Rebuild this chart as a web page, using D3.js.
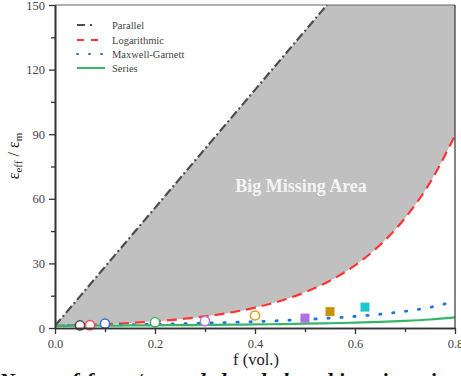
<!DOCTYPE html>
<html><head><meta charset="utf-8">
<script src="https://cdn.jsdelivr.net/npm/d3@7"></script>
<style>
body{margin:0;background:#fff;}
svg{display:block;font-family:"Liberation Serif","Times New Roman",serif;}
</style></head>
<body>
<svg id="c" width="461" height="376"></svg>
<script>
// ---- data ----
const fVals = [0,0.05,0.1,0.15,0.2,0.25,0.3,0.35,0.4,0.45,0.5,0.55,0.6,0.65,0.7,0.75,0.8];
const parallelVals = [1,14.7,28.4,42.1,55.8,69.5,83.2,96.9,110.6,124.3,138,151.7,165.4,179.1,192.8,206.5,220.2];
const logVals = [1,1.32,1.75,2.32,3.08,4.07,5.39,7.14,9.46,12.52,16.58,21.96,29.08,38.51,51.0,67.5,89.4];
const mgVals = [1,1.16,1.33,1.52,1.74,1.99,2.27,2.59,2.96,3.41,3.94,4.58,5.38,6.40,7.75,9.62,12.38];
const seriesVals = [1,1.05,1.11,1.18,1.25,1.33,1.43,1.54,1.66,1.81,1.99,2.21,2.49,2.84,3.31,3.96,4.93];
const circleF = [0.05,0.07,0.1,0.2,0.3,0.4];
const circleV = [1.2,1.3,2.0,2.7,3.2,5.8];
const circleC = ["#4a4a4a","#ff4a4a","#2f6fe0","#3cb371","#b57fe6","#d9a020"];
const squareF = [0.5,0.55,0.62];
const squareV = [4.6,7.6,9.7];
const squareC = ["#b070e0","#c8920a","#1ec8cf"];
const xTicks = [0,0.2,0.4,0.6,0.8];
const xMinor = [0.1,0.3,0.5,0.7];
const yTicks = [0,30,60,90,120,150];
const yMinor = [15,45,75,105,135];
const legendNames = ["Parallel","Logarithmic","Maxwell-Garnett","Series"];

// ---- layout ----
const L=55,R=455,T=5,B=328;
const svg=d3.select("#c");
const x=d3.scaleLinear().domain([0,0.8]).range([L,R]);
const y=d3.scaleLinear().domain([0,150]).range([B,T]);

svg.append("clipPath").attr("id","clip").append("rect")
  .attr("x",L).attr("y",T).attr("width",R-L).attr("height",B-T);
const g=svg.append("g").attr("clip-path","url(#clip)");

const pts=(vals)=>fVals.map((f,i)=>[f,vals[i]]);
const area=d3.area().x((d,i)=>x(fVals[i])).y0((d,i)=>y(logVals[i])).y1((d,i)=>y(parallelVals[i])).curve(d3.curveMonotoneX);
g.append("path").datum(fVals).attr("d",area).attr("fill","#c0c0c0");

const line=d3.line().x(d=>x(d[0])).y(d=>y(d[1])).curve(d3.curveMonotoneX);
const styles=[
  {vals:parallelVals,color:"#4d4d4d",dash:"9,3,2,3",w:2.2,cap:"butt"},
  {vals:logVals,color:"#ff3535",dash:"10,6",w:2.2,cap:"butt"},
  {vals:mgVals,color:"#1f72e6",dash:"1.3,11.7",w:2.8,cap:"round"},
  {vals:seriesVals,color:"#33b56a",dash:null,w:2.2,cap:"butt"}
];
styles.forEach(s=>{
  g.append("path").datum(pts(s.vals)).attr("d",line).attr("fill","none")
   .attr("stroke",s.color).attr("stroke-width",s.w).attr("stroke-linecap",s.cap)
   .attr("stroke-dasharray",s.dash);
});

// text in area
svg.append("text").attr("x",301).attr("y",192).attr("text-anchor","middle")
  .attr("fill","#f4f4f4").attr("font-weight","bold").attr("font-size",18).text("Big Missing Area");

// markers
circleF.forEach((f,i)=>{
  svg.append("circle").attr("cx",x(f)).attr("cy",y(circleV[i])).attr("r",4.6)
    .attr("fill","#fff").attr("stroke",circleC[i]).attr("stroke-width",1.5);
});
squareF.forEach((f,i)=>{
  svg.append("rect").attr("x",x(f)-4.5).attr("y",y(squareV[i])-4.5).attr("width",9).attr("height",9)
    .attr("fill",squareC[i]);
});

// frame
svg.append("line").attr("x1",L).attr("x2",R).attr("y1",T).attr("y2",T).attr("stroke","#666").attr("stroke-width",1.2);
svg.append("line").attr("x1",R).attr("x2",R).attr("y1",T).attr("y2",B).attr("stroke","#333").attr("stroke-width",1.2);

// axes
svg.append("g").attr("transform",`translate(0,${B})`)
  .call(d3.axisBottom(x).tickValues(xTicks).tickFormat(d3.format(".1f")).tickSize(6).tickSizeOuter(0).tickPadding(5));
svg.append("g").attr("transform",`translate(0,${B})`)
  .call(d3.axisBottom(x).tickValues(xMinor).tickFormat("").tickSize(4).tickSizeOuter(0));
svg.append("g").attr("transform",`translate(${L},0)`)
  .call(d3.axisLeft(y).tickValues(yTicks).tickSize(6).tickSizeOuter(0).tickPadding(4));
svg.append("g").attr("transform",`translate(${L},0)`)
  .call(d3.axisLeft(y).tickValues(yMinor).tickFormat("").tickSize(4).tickSizeOuter(0));
svg.selectAll(".domain").attr("stroke","#333").attr("stroke-width",1.6);
svg.selectAll(".tick line").attr("stroke","#333").attr("stroke-width",1.3);
svg.selectAll(".tick text").attr("font-family","Liberation Serif, serif").attr("font-size",12.5).attr("fill","#444");

// axis titles
const yt=svg.append("text").attr("transform","translate(19,156) rotate(-90)").attr("text-anchor","middle")
  .attr("font-size",16).attr("fill","#222");
yt.append("tspan").text("ε");
yt.append("tspan").attr("font-size",11).attr("dy",3).text("eff");
yt.append("tspan").attr("dy",-3).text(" / ε");
yt.append("tspan").attr("font-size",11).attr("dy",3).text("m");

svg.append("text").attr("x",256).attr("y",365).attr("text-anchor","middle")
  .attr("font-size",16.5).attr("fill","#222").text("f (vol.)");

// legend
const lg=svg.append("g");
legendNames.forEach((n,i)=>{
  const yy=[25,40,54,68][i];
  const s=styles[i];
  lg.append("line").attr("x1",77).attr("x2",105).attr("y1",yy).attr("y2",yy)
    .attr("stroke",s.color).attr("stroke-width",2).attr("stroke-linecap",s.cap)
    .attr("stroke-dasharray",i===0?"8,5,2,20":i===1?"7,7":i===2?"1,11":null);
  lg.append("text").attr("x",112).attr("y",yy).attr("dy","0.35em").attr("font-size",10.5)
    .attr("fill","#444").text(n);
});

// caption (cut off at the bottom of the picture)
svg.append("text").attr("x",-1).attr("y",388).attr("font-style","italic").attr("font-weight","bold")
  .attr("font-size",22).attr("fill","#111").text("Note: a f-form / recorded and plotted in prior min");
</script>
</body></html>
